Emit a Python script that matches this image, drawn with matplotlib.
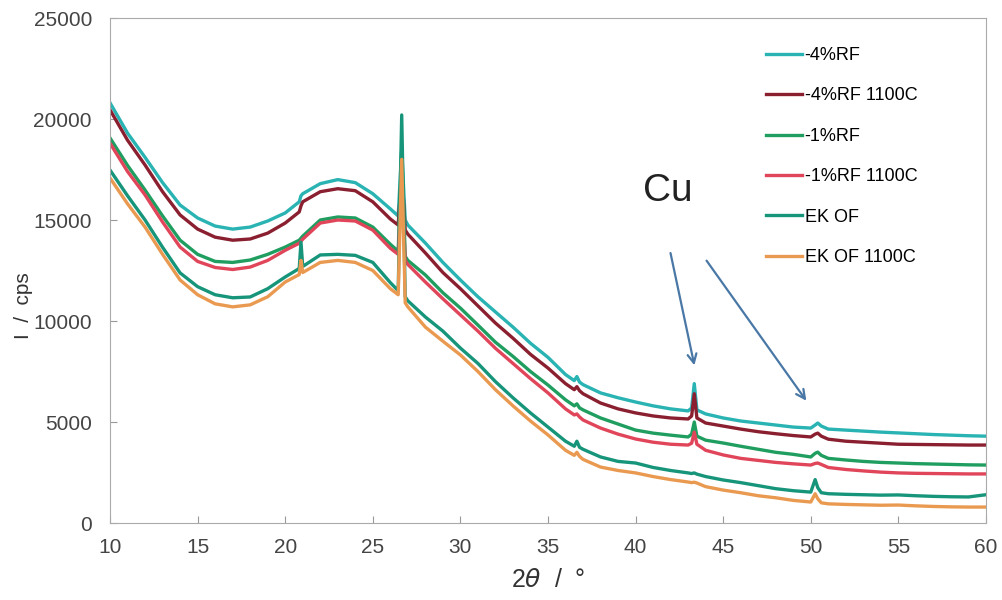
import matplotlib
matplotlib.use('Agg')
import matplotlib.pyplot as plt

plt.rcParams['font.family'] = ['Liberation Sans', 'DejaVu Sans']

# 2theta sample positions (deg)
two_theta = [10, 11, 12, 13, 14, 15, 16, 17, 18, 19, 20, 20.8, 20.9, 21.0, 22, 23, 24, 25, 26,
             26.45, 26.65, 26.85, 27, 28, 29, 30, 31, 32, 33, 34, 35, 36, 36.5, 36.65, 36.8, 37,
             38, 39, 40, 41, 42, 43, 43.2, 43.35, 43.5, 44, 45, 46, 47, 48, 49, 50, 50.25, 50.4,
             50.6, 51, 52, 53, 54, 55, 56, 57, 58, 59, 60]

rf4 = [20800, 19300, 18100, 16850, 15740, 15100, 14700, 14550, 14650, 14950, 15350, 15900, 16200,
       16300, 16800, 17000, 16850, 16300, 15550, 15200, 18500, 15000, 14750, 13860, 12900, 12030,
       11200, 10450, 9700, 8900, 8200, 7350, 7050, 7250, 6980, 6850, 6440, 6200, 5990, 5800, 5650,
       5550, 5700, 6900, 5600, 5400, 5200, 5050, 4950, 4850, 4750, 4700, 4850, 4950, 4800, 4650,
       4600, 4550, 4500, 4460, 4420, 4380, 4350, 4320, 4300]

rf4_1100 = [20450, 18950, 17720, 16400, 15250, 14550, 14150, 14000, 14060, 14350, 14850, 15400, 15700,
            15900, 16400, 16550, 16450, 15900, 15050, 14750, 17500, 14500, 14300, 13370, 12400, 11600,
            10750, 9900, 9150, 8350, 7670, 6900, 6600, 6750, 6550, 6400, 5940, 5650, 5450, 5300, 5200,
            5150, 5300, 6400, 5200, 4950, 4800, 4650, 4520, 4420, 4330, 4260, 4400, 4450, 4300, 4150,
            4050, 4000, 3950, 3900, 3890, 3880, 3870, 3860, 3860]

rf1 = [19060, 17700, 16480, 15200, 14000, 13300, 12950, 12900, 13020, 13300, 13660, 14000, 14100,
       14200, 15000, 15150, 15100, 14650, 13800, 13450, 18500, 13200, 13000, 12280, 11400, 10640,
       9800, 8950, 8250, 7500, 6830, 6100, 5800, 5900, 5700, 5600, 5200, 4900, 4600, 4450, 4350,
       4260, 4400, 5000, 4300, 4100, 3960, 3800, 3650, 3500, 3400, 3270, 3450, 3510, 3350, 3200,
       3120, 3050, 3000, 2970, 2940, 2920, 2900, 2880, 2870]

rf1_1100 = [18800, 17400, 16240, 14900, 13660, 12950, 12650, 12550, 12670, 13000, 13500, 13850, 13950,
            14050, 14850, 15000, 14950, 14500, 13600, 13300, 17000, 13000, 12800, 11930, 11100, 10300,
            9500, 8650, 7900, 7150, 6440, 5650, 5350, 5400, 5250, 5100, 4700, 4400, 4160, 4000, 3900,
            3860, 3950, 4500, 3900, 3600, 3370, 3200, 3100, 3000, 2930, 2870, 2950, 2970, 2900, 2750,
            2650, 2580, 2520, 2480, 2460, 2450, 2440, 2430, 2430]

ek = [17470, 16200, 15000, 13650, 12380, 11700, 11300, 11150, 11190, 11600, 12180, 12600, 13900,
      12700, 13270, 13300, 13250, 12900, 11900, 11500, 20200, 11200, 11000, 10200, 9500, 8660,
      7900, 7000, 6200, 5450, 4750, 4050, 3800, 4050, 3750, 3650, 3270, 3050, 2970, 2750, 2600,
      2480, 2450, 2480, 2420, 2300, 2130, 2000, 1850, 1700, 1600, 1530, 2150, 1750, 1500, 1450,
      1420, 1400, 1380, 1390, 1350, 1320, 1300, 1290, 1400]

ek_1100 = [17080, 15800, 14650, 13300, 12030, 11300, 10850, 10700, 10800, 11200, 11930, 12300, 13000,
           12400, 12900, 13000, 12900, 12500, 11600, 11300, 18000, 10900, 10700, 9700, 9000, 8320,
           7500, 6600, 5800, 5050, 4360, 3600, 3350, 3500, 3300, 3150, 2770, 2600, 2480, 2300, 2150,
           2030, 2000, 2020, 1980, 1800, 1630, 1500, 1350, 1250, 1120, 1040, 1450, 1200, 1000, 950,
           920, 900, 880, 890, 850, 820, 800, 790, 790]

labels = ['-4%RF', '-4%RF 1100C', '-1%RF', '-1%RF 1100C', 'EK OF', 'EK OF 1100C']
series = [rf4, rf4_1100, rf1, rf1_1100, ek, ek_1100]
colors = ['#2ab3b3', '#8a1f30', '#1f9e60', '#e0455a', '#17957a', '#ea9a50']

fig = plt.figure(figsize=(10.03, 6.0), dpi=100)
ax = fig.add_axes([0.1097, 0.1283, 0.8733, 0.8417])

for ys, lab, c in zip(series, labels, colors):
    ax.plot(two_theta, ys, color=c, lw=2.4, label=lab)

ax.set_xlim(10, 60)
ax.set_ylim(0, 25000)
ax.set_xticks(range(10, 61, 5))
ax.set_yticks(range(0, 25001, 5000))
ax.tick_params(direction='in', length=5, color='#999999', labelsize=15, labelcolor='#444444')
ax.tick_params(axis='y', pad=13)
ax.tick_params(axis='x', pad=11)
for s in ax.spines.values():
    s.set_color('#aaaaaa')

ax.set_xlabel(r'2$\theta$  /  °', fontsize=18, color='#333333', labelpad=8)
ax.set_ylabel('I  /  cps', fontsize=15, color='#333333')
ax.yaxis.set_label_coords(-0.088, 0.43)

ax.legend(loc='upper left', bbox_to_anchor=(0.73, 0.975), frameon=False, fontsize=13,
          handlelength=2.0, labelspacing=1.3, handletextpad=0.15)

# Cu annotation
ax.text(41.85, 16450, 'Cu', fontsize=28, ha='center', va='center', color='#222222')
arrow_style = dict(arrowstyle='->', color='#4a78a6', lw=1.6, mutation_scale=16)
ax.annotate('', xy=(43.39, 7670), xytext=(41.96, 13500), arrowprops=arrow_style)
ax.annotate('', xy=(49.84, 5940), xytext=(43.96, 13100), arrowprops=arrow_style)

fig.savefig('out.png', dpi=100)
